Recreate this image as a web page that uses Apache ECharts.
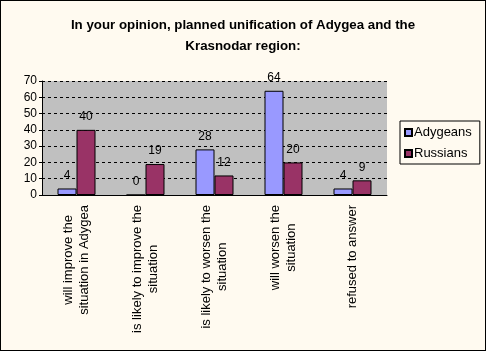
<!DOCTYPE html>
<html>
<head>
<meta charset="utf-8">
<script src="https://cdn.jsdelivr.net/npm/echarts@6/dist/echarts.min.js"></script>
<style>
  html, body { margin: 0; padding: 0; background: #fffaf0; }
  #chart { width: 486px; height: 351px; box-sizing: border-box; border: 1px solid #000; }
</style>
</head>
<body>
<div id="chart"></div>
<script>
// survey answers
const titleLines = [
  'In your opinion, planned unification of Adygea and the',
  'Krasnodar region:'
];
const categories = [
  'will improve the\nsituation in Adygea',
  'is likely to improve the\nsituation',
  'is likely to worsen the\nsituation',
  'will worsen the\nsituation',
  'refused to answer'
];
const adygeans = [4, 0, 28, 64, 4];
const russians = [40, 19, 12, 20, 9];

const FONT = 'Arial, "Liberation Sans", sans-serif';

const chart = echarts.init(document.getElementById('chart'));
chart.setOption({
  animation: false,
  backgroundColor: '#fffaf0',
  title: titleLines.map((t, i) => ({
    text: t,
    left: 'center',
    top: 13 + i * 21,
    textStyle: { fontFamily: FONT, fontSize: 13.3, fontWeight: 'bold', color: '#000' }
  })),
  legend: {
    orient: 'vertical',
    left: 399,
    top: 120,
    padding: [5, 8, 4, 4],
    itemWidth: 7,
    itemHeight: 7,
    itemGap: 8,
    borderColor: '#000',
    borderWidth: 1,
    icon: 'rect',
    textStyle: { fontFamily: FONT, fontSize: 13, color: '#000', padding: [0, 0, 0, -3] },
    data: ['Adygeans', 'Russians']
  },
  grid: { left: 41, right: 98, top: 80, bottom: 155, backgroundColor: '#c0c0c0', show: true, borderWidth: 0 },
  xAxis: {
    type: 'category',
    data: categories,
    axisLine: { lineStyle: { color: '#000' } },
    axisTick: { lineStyle: { color: '#000' }, length: 4 },
    axisLabel: {
      rotate: 90, interval: 0, margin: 10,
      formatter: v => v.split('\n').map(l => '{c|' + l + '}').join('\n'),
      rich: { c: { align: 'center', fontFamily: FONT, fontSize: 13, color: '#000', lineHeight: 16 } }
    }
  },
  yAxis: {
    type: 'value',
    min: 0,
    max: 70,
    interval: 10,
    axisLine: { show: true, lineStyle: { color: '#000' } },
    axisTick: { show: true, lineStyle: { color: '#000' }, length: 3 },
    axisLabel: { fontFamily: FONT, fontSize: 12, color: '#000', margin: 5 },
    splitLine: { lineStyle: { color: '#000', type: [3, 3] } }
  },
  series: [
    {
      name: 'Adygeans',
      type: 'bar',
      data: adygeans,
      barWidth: 19,
      barGap: '0%',
      itemStyle: { color: '#9999ff', borderColor: '#000', borderWidth: 1 },
      label: { show: true, position: 'top', fontFamily: FONT, fontSize: 12, color: '#000', distance: 7 }
    },
    {
      name: 'Russians',
      type: 'bar',
      data: russians,
      barWidth: 19,
      itemStyle: { color: '#993366', borderColor: '#000', borderWidth: 1 },
      label: { show: true, position: 'top', fontFamily: FONT, fontSize: 12, color: '#000', distance: 7 }
    }
  ]
});
</script>
</body>
</html>
